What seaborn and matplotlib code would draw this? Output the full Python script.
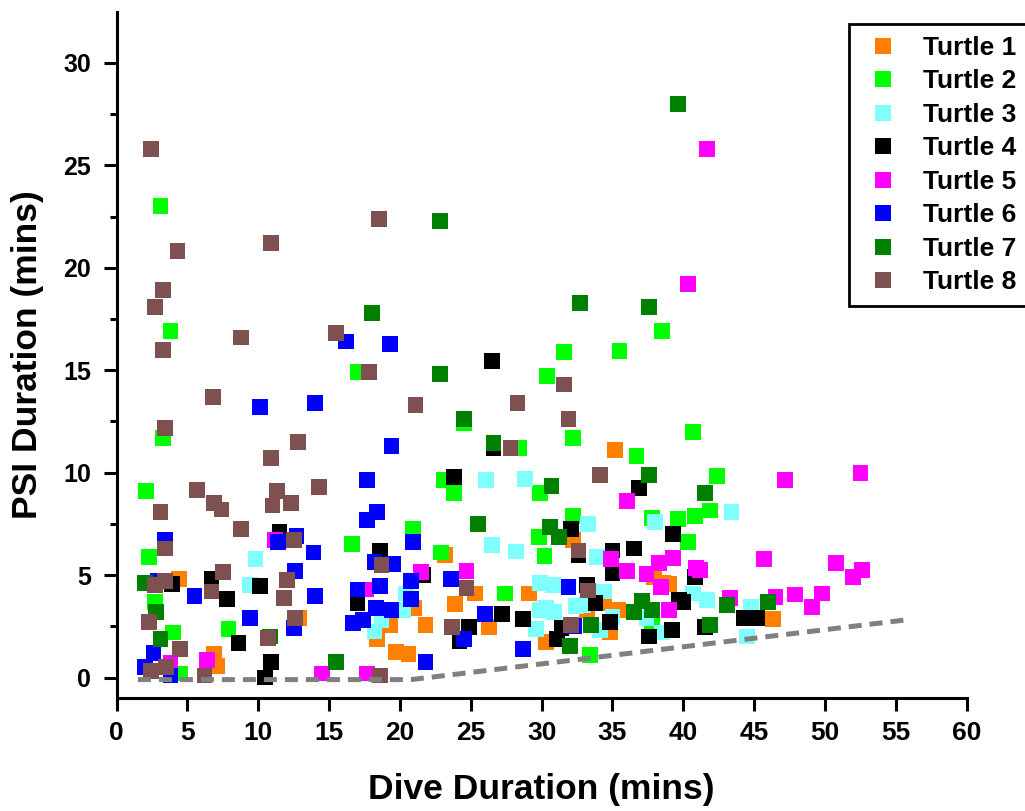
import matplotlib
matplotlib.use("Agg")
import matplotlib.pyplot as plt
import seaborn as sns
import pandas as pd

# ---------------- data ----------------
turtles = ["Turtle 1", "Turtle 2", "Turtle 3", "Turtle 4",
           "Turtle 5", "Turtle 6", "Turtle 7", "Turtle 8"]
colors = ["#FF8000", "#00FF00", "#80FFFF", "#000000",
          "#FF00FF", "#0000FF", "#008000", "#7F5050"]

t1_x = [4.4, 6.9, 7.1, 12.9, 18.4, 19.3, 19.7, 20.6, 21.8, 21.0, 23.2, 23.9,
        25.3, 26.3, 29.1, 30.3, 34.8, 35.4, 35.2, 39.0, 46.3, 32.2, 34.4,
        38.6, 37.9, 33.2]
t1_y = [4.8, 1.15, 0.55, 2.9, 1.9, 2.55, 1.25, 1.15, 2.55, 3.4, 6.0, 3.6,
        4.1, 2.45, 4.1, 1.75, 2.2, 3.3, 11.1, 4.55, 2.85, 6.7, 3.65,
        4.6, 4.9, 3.3]

t2_x = [3.1, 3.8, 17.0, 3.3, 2.1, 2.3, 2.7, 4.0, 4.5, 7.9, 16.6, 20.9, 22.9,
        23.1, 23.8, 24.5, 28.4, 27.4, 29.9, 29.8, 30.2, 30.4, 31.6, 32.2,
        32.2, 33.4, 35.5, 36.7, 38.5, 37.8, 39.6, 40.8, 40.3, 40.7, 42.4,
        41.9, 37.8]
t2_y = [23.0, 16.9, 14.9, 11.7, 9.1, 5.9, 3.7, 2.2, 0.2, 2.35, 6.5, 7.25, 6.1,
        9.65, 9.0, 12.4, 11.2, 4.1, 9.0, 6.85, 5.95, 14.7, 15.9, 11.7,
        7.9, 1.1, 15.95, 10.8, 16.9, 7.8, 7.75, 7.9, 6.6, 12.0, 9.85,
        8.15, 2.7]

t3_x = [9.8, 9.4, 18.2, 18.7, 20.2, 20.4, 26.1, 28.8, 26.5, 28.2, 33.3, 33.9,
        29.9, 30.8, 34.4, 32.4, 29.9, 30.9, 29.6, 38.0, 40.7, 41.7, 37.4,
        38.5, 43.4, 44.8, 44.5, 32.9, 30.3, 35.0, 34.1]
t3_y = [5.8, 4.5, 2.25, 2.8, 3.3, 4.1, 9.65, 9.7, 6.45, 6.15, 7.5, 5.9,
        4.6, 4.5, 4.2, 3.5, 3.3, 3.2, 2.35, 7.6, 4.1, 3.8, 2.9,
        2.2, 8.1, 3.45, 2.0, 3.55, 3.4, 2.95, 2.3]

t4_x = [11.5, 3.9, 6.7, 10.1, 7.8, 8.6, 10.9, 10.5, 18.6, 17.0, 23.8, 26.5,
        26.6, 31.9, 32.1, 32.6, 36.9, 35.0, 36.5, 35.0, 39.3, 40.8, 39.7,
        39.2, 37.6, 33.2, 33.8, 27.2, 28.7, 24.9, 24.2, 31.1, 34.8, 41.5,
        44.3, 45.2, 21.6, 31.4, 40.0]
t4_y = [7.1, 4.55, 4.8, 4.45, 3.85, 1.7, 0.75, 0.0, 6.2, 3.65, 9.8, 15.45,
        11.2, 12.6, 7.25, 6.0, 9.25, 6.2, 6.3, 5.1, 7.0, 4.9, 3.8,
        2.3, 2.0, 4.5, 3.65, 3.1, 2.85, 2.45, 1.8, 1.9, 2.7, 2.45,
        2.9, 2.9, 5.0, 2.4, 3.7]

t5_x = [11.2, 17.6, 6.4, 3.8, 14.5, 17.7, 21.5, 24.7, 36.0, 34.9, 36.0, 37.4,
        38.3, 39.3, 38.4, 40.9, 39.0, 41.2, 43.3, 45.7, 46.5, 47.9, 49.8,
        49.1, 50.8, 52.6, 52.0, 47.2, 52.5, 40.3, 41.7]
t5_y = [6.7, 4.3, 0.85, 0.7, 0.2, 0.2, 5.15, 5.2, 8.6, 5.8, 5.2, 5.05,
        5.6, 5.85, 4.4, 5.35, 3.3, 5.25, 3.9, 5.8, 3.95, 4.05, 4.1,
        3.45, 5.6, 5.25, 4.9, 9.65, 10.0, 19.2, 25.8]

t6_x = [16.2, 19.3, 10.1, 14.0, 19.4, 17.7, 17.7, 18.4, 12.7, 11.4, 20.9, 3.4,
        13.9, 18.2, 19.5, 12.6, 2.9, 5.5, 14.0, 17.0, 18.6, 20.8, 20.8, 9.4,
        12.5, 18.3, 19.4, 16.7, 17.4, 2.6, 2.0, 3.8, 21.8, 23.6, 24.5, 26.0,
        28.7, 31.9, 32.3]
t6_y = [16.4, 16.3, 13.2, 13.4, 11.3, 9.65, 7.7, 8.1, 6.9, 6.6, 6.6, 6.7,
        6.1, 5.65, 5.55, 5.2, 4.7, 4.0, 4.0, 4.3, 4.45, 4.7, 3.85, 2.9,
        2.4, 3.4, 3.3, 2.65, 2.8, 1.2, 0.5, 0.1, 0.75, 4.8, 1.9, 3.1,
        1.4, 4.4, 2.5]

t7_x = [18.0, 22.8, 32.7, 37.6, 22.8, 24.5, 26.6, 30.7, 37.6, 25.5, 30.6, 31.2,
        39.6, 41.5, 2.0, 2.8, 3.1, 10.8, 15.5, 33.5, 32.0, 36.5, 37.1, 37.8,
        41.9, 43.1, 46.0]
t7_y = [17.8, 22.3, 18.3, 18.1, 14.8, 12.6, 11.45, 9.35, 9.9, 7.5, 7.35, 6.85,
        28.0, 9.0, 4.6, 3.2, 1.9, 2.0, 0.75, 2.55, 1.55, 3.2, 3.75, 3.3,
        2.55, 3.55, 3.7]

t8_x = [2.4, 18.5, 10.9, 4.3, 3.3, 2.7, 8.8, 3.3, 15.5, 17.8, 6.8, 21.1, 3.4,
        12.8, 10.9, 5.7, 11.3, 14.3, 3.1, 6.9, 7.4, 11.0, 12.3, 8.8, 12.5,
        3.4, 18.7, 7.5, 2.7, 3.4, 12.0, 6.7, 11.8, 2.3, 12.6, 4.5, 10.7, 6.2,
        18.6, 2.4, 3.5, 31.6, 28.3, 31.9, 27.8, 34.1, 32.6, 24.7, 33.3, 23.7,
        32.1]
t8_y = [25.8, 22.4, 21.2, 20.8, 18.9, 18.1, 16.6, 16.0, 16.8, 14.9, 13.7, 13.3,
        12.2, 11.5, 10.7, 9.15, 9.1, 9.3, 8.1, 8.5, 8.2, 8.4, 8.5, 7.25, 6.7,
        6.3, 5.5, 5.15, 4.5, 4.7, 4.75, 4.2, 3.9, 2.7, 2.9, 1.4, 1.95, 0.1,
        0.1, 0.3, 0.5, 14.3, 13.4, 12.6, 11.2, 9.9, 6.2, 4.35, 4.25, 2.45,
        2.55]

# reference (dashed) line
line_x = [1.5, 20.8, 55.8]
line_y = [-0.1, -0.1, 2.82]

xs = [t1_x, t2_x, t3_x, t4_x, t5_x, t6_x, t7_x, t8_x]
ys = [t1_y, t2_y, t3_y, t4_y, t5_y, t6_y, t7_y, t8_y]

df = pd.concat(
    [pd.DataFrame({"dive": x, "psi": y, "turtle": name})
     for x, y, name in zip(xs, ys, turtles)],
    ignore_index=True)

# ---------------- styling ----------------
sns.set_style("ticks")
plt.rcParams["font.family"] = ["Liberation Sans", "DejaVu Sans"]
plt.rcParams["font.weight"] = "bold"
plt.rcParams["text.color"] = "black"
plt.rcParams["axes.labelcolor"] = "black"
plt.rcParams["xtick.color"] = "black"
plt.rcParams["ytick.color"] = "black"
plt.rcParams["axes.edgecolor"] = "black"

fig = plt.figure(figsize=(10.25, 8.11), dpi=100)
ax = fig.add_axes([0.1138, 0.1393, 0.8293, 0.8463])

sns.scatterplot(data=df, x="dive", y="psi", hue="turtle",
                hue_order=turtles, palette=dict(zip(turtles, colors)),
                marker="s", s=130, linewidth=0, alpha=1.0, ax=ax,
                legend=True, zorder=2)

ax.plot(line_x, line_y, color="#808080", linestyle=(0, (2.6, 1.6)),
        linewidth=3.6, zorder=3)

ax.set_xlim(0, 60)
ax.set_ylim(-1.0, 32.5)
ax.set_xticks(range(0, 61, 5))
ax.set_yticks(range(0, 31, 5))
ax.set_yticks([2.5 + 5 * i for i in range(6)], minor=True)

for side in ["top", "right"]:
    ax.spines[side].set_visible(False)
for side in ["left", "bottom"]:
    ax.spines[side].set_linewidth(2.2)
    ax.spines[side].set_color("black")

ax.tick_params(axis="both", which="major", direction="out", length=9.5,
               width=2.2, color="black", labelcolor="black")
ax.tick_params(axis="y", which="minor", direction="out", length=5,
               width=2.2, color="black")
ax.tick_params(axis="x", labelsize=19, pad=7)
ax.tick_params(axis="y", labelsize=18, pad=9)
for lab in ax.get_xticklabels() + ax.get_yticklabels():
    lab.set_fontweight("bold")

ax.set_xlabel("Dive Duration (mins)", fontsize=25.5, fontweight="bold",
              labelpad=20, color="black")
ax.set_ylabel("PSI Duration (mins)", fontsize=25.5, fontweight="bold",
              labelpad=14, color="black")

handles, labels = ax.get_legend_handles_labels()
leg = ax.legend(handles, labels, loc="upper left",
                bbox_to_anchor=(0.8283, 0.9704), bbox_transform=fig.transFigure,
                fontsize=19, frameon=True, fancybox=False, framealpha=1,
                edgecolor="black", markerscale=1.0, handletextpad=0.67,
                labelspacing=0.36, borderpad=0.45, handlelength=1.68,
                borderaxespad=0)
leg.get_frame().set_linewidth(2.0)
for t in leg.get_texts():
    t.set_fontweight("bold")
    t.set_color("black")

fig.savefig("out.png", dpi=100)
